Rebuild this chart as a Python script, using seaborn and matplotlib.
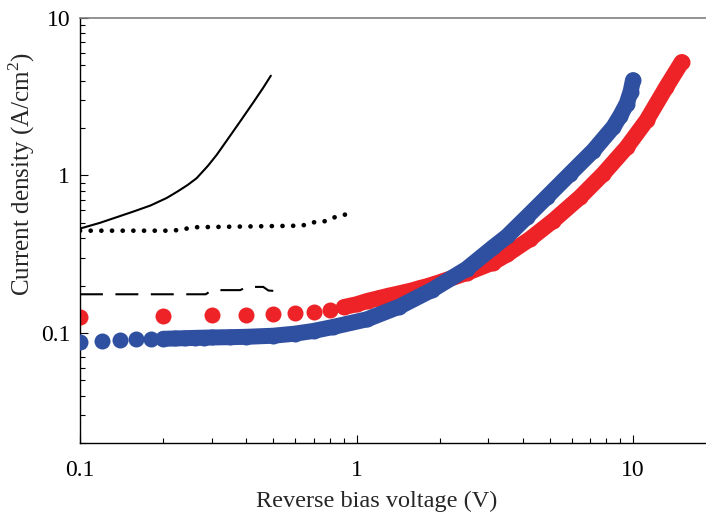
import numpy as np
import pandas as pd
import matplotlib
matplotlib.use("Agg")
import matplotlib.pyplot as plt
import matplotlib.ticker as mticker
import seaborn as sns

# ---- data ----
solid_v = [0.10, 0.118, 0.156, 0.18, 0.206, 0.225, 0.245, 0.264, 0.29, 0.312,
           0.339, 0.38, 0.424, 0.46, 0.49]
solid_j = [0.46, 0.50, 0.59, 0.645, 0.72, 0.79, 0.87, 0.96, 1.15, 1.35,
           1.66, 2.21, 2.92, 3.61, 4.3]

dotted_v = [0.10, 0.217, 0.238, 0.26, 0.635, 0.70, 0.76, 0.835, 0.93]
dotted_j = [0.446, 0.446, 0.457, 0.469, 0.480, 0.504, 0.509, 0.543, 0.57]

dashed_v = [0.10, 0.285, 0.30, 0.38, 0.40, 0.46, 0.48, 0.50]
dashed_j = [0.176, 0.176, 0.187, 0.187, 0.196, 0.196, 0.186, 0.185]

red_v = [0.1, 0.2, 0.3, 0.4, 0.5, 0.6, 0.7, 0.8, 0.9, 1.0, 1.1, 1.2, 1.3, 1.4,
         1.5, 1.6, 1.7, 1.8, 1.9, 2.0, 2.5, 3.12, 3.5, 4.24, 5.15, 6.43, 7.81,
         9.49, 11.2, 13.2, 15.0]
red_j = [0.126, 0.128, 0.130, 0.130, 0.132, 0.133, 0.135, 0.140, 0.146, 0.152,
         0.160, 0.166, 0.172, 0.177, 0.182, 0.187, 0.193, 0.198, 0.204, 0.210,
         0.240, 0.280, 0.315, 0.395, 0.517, 0.727, 1.025, 1.51, 2.24, 3.65, 5.25]

blue_v = [0.10, 0.12, 0.14, 0.16, 0.18, 0.20, 0.22, 0.24, 0.26, 0.28, 0.30, 0.35,
          0.40, 0.50, 0.60, 0.70, 0.82, 1.09, 1.43, 1.88, 2.5, 3.12, 3.5, 4.12,
          4.87, 5.92, 7.19, 8.49, 9.0, 9.49, 9.8, 10.0]
blue_j = [0.088, 0.089, 0.090, 0.091, 0.0915, 0.0918, 0.0922, 0.0926, 0.093,
          0.0933, 0.0936, 0.094, 0.0945, 0.096, 0.099, 0.103, 0.109, 0.122,
          0.147, 0.188, 0.255, 0.35, 0.41, 0.543, 0.727, 1.025, 1.44, 2.03,
          2.40, 2.86, 3.40, 4.03]

x_ticks = [0.1, 1, 10]
x_tick_labels = ["0.1", "1", "10"]
y_ticks = [0.1, 1, 10]
y_tick_labels = ["0.1", "1", "10"]

RED = "#EE2327"
BLUE = "#2F4FA0"

sns.set_style("ticks")
plt.rcParams["font.family"] = ["Liberation Serif", "DejaVu Serif"]
plt.rcParams["mathtext.fontset"] = "custom"
plt.rcParams["mathtext.rm"] = "Liberation Serif"

fig = plt.figure(figsize=(7.06, 5.15), dpi=100)
ax = fig.add_axes([80 / 706, 72 / 515, 626 / 706, 425 / 515])
ax.set_xscale("log")
ax.set_yscale("log")

red_df = pd.DataFrame({"v": red_v, "j": red_j})
blue_df = pd.DataFrame({"v": blue_v, "j": blue_j})

dot_px = 16
dot_pt = dot_px * 72 / 100

# red series: band for overlapping region + dots
sns.lineplot(data=red_df[red_df.v >= 0.85], x="v", y="j", ax=ax, color=RED,
             lw=dot_pt, solid_capstyle="round", solid_joinstyle="round",
             sort=False, estimator=None, zorder=2)
sns.scatterplot(data=red_df, x="v", y="j", ax=ax, color=RED, s=dot_pt ** 2,
                linewidth=0, zorder=2)

# blue series
sns.lineplot(data=blue_df[blue_df.v >= 0.2], x="v", y="j", ax=ax, color=BLUE,
             lw=dot_pt, solid_capstyle="round", solid_joinstyle="round",
             sort=False, estimator=None, zorder=3)
sns.scatterplot(data=blue_df, x="v", y="j", ax=ax, color=BLUE, s=dot_pt ** 2,
                linewidth=0, zorder=3)

# black reference curves
sns.lineplot(x=solid_v, y=solid_j, ax=ax, color="black", lw=1.5,
             sort=False, estimator=None, zorder=4)
sns.lineplot(x=dotted_v, y=dotted_j, ax=ax, color="black", lw=3.4,
             linestyle=(0, (0.01, 2.25)), dash_capstyle="round",
             sort=False, estimator=None, zorder=4)
sns.lineplot(x=dashed_v, y=dashed_j, ax=ax, color="black", lw=1.5,
             linestyle=(0, (11, 6)), sort=False, estimator=None, zorder=4)

ax.set_xlim(0.1, 0.1 * 10 ** (626 / 276.5))
ax.set_ylim(0.02, 10)

ax.xaxis.set_major_locator(mticker.FixedLocator(x_ticks))
ax.xaxis.set_major_formatter(mticker.FixedFormatter(x_tick_labels))
ax.xaxis.set_minor_locator(mticker.LogLocator(base=10, subs=np.arange(2, 10), numticks=20))
ax.xaxis.set_minor_formatter(mticker.NullFormatter())
ax.yaxis.set_major_locator(mticker.FixedLocator(y_ticks))
ax.yaxis.set_major_formatter(mticker.FixedFormatter(y_tick_labels))
ax.yaxis.set_minor_locator(mticker.LogLocator(base=10, subs=np.arange(2, 10), numticks=20))
ax.yaxis.set_minor_formatter(mticker.NullFormatter())

ax.tick_params(which="both", direction="in", colors="black", width=0.8,
               top=False, right=False, labelsize=17)
ax.tick_params(which="major", length=5.5)
ax.tick_params(which="minor", length=3.6)
ax.tick_params(axis="x", which="major", pad=12)
ax.tick_params(axis="y", which="major", pad=7)

for s in ["left", "bottom"]:
    ax.spines[s].set_color("black")
    ax.spines[s].set_linewidth(1.0)
ax.spines["top"].set_color("#808080")
ax.spines["top"].set_linewidth(1.2)
ax.spines["right"].set_visible(False)

ax.set_xlabel("Reverse bias voltage (V)", fontsize=17.5)
ax.set_ylabel("Current density (A/cm$^2$)", fontsize=18)
ax.xaxis.set_label_coords(0.474, -0.112)
ax.yaxis.set_label_coords(-0.068, 0.633)

fig.savefig("out.png", dpi=100)
